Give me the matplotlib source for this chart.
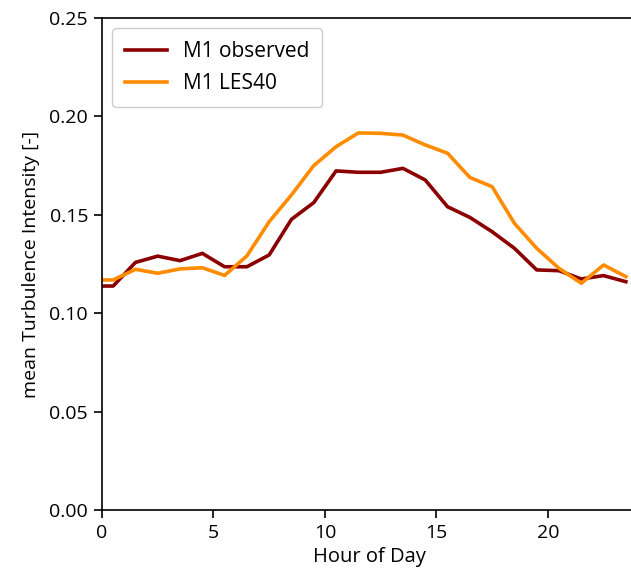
import numpy as np
import matplotlib
matplotlib.use("Agg")
import matplotlib.pyplot as plt

plt.rcParams["font.family"] = ["Open Sans", "DejaVu Sans"]

# hourly means (first point repeats the 00:30 value at hour 0)
hours = [0, 0.5, 1.5, 2.5, 3.5, 4.5, 5.5, 6.5, 7.5, 8.5, 9.5, 10.5, 11.5,
         12.5, 13.5, 14.5, 15.5, 16.5, 17.5, 18.5, 19.5, 20.5, 21.5, 22.5, 23.5]
ti_observed = [0.1138, 0.1138, 0.1258, 0.1290, 0.1267, 0.1304, 0.1236, 0.1236,
               0.1296, 0.1477, 0.1562, 0.1723, 0.1716, 0.1716, 0.1736, 0.1677,
               0.1541, 0.1487, 0.1414, 0.1330, 0.1220, 0.1216, 0.1174, 0.1191,
               0.1160]
ti_les40 = [0.1169, 0.1169, 0.1223, 0.1203, 0.1225, 0.1231, 0.1192, 0.1291,
            0.1465, 0.1601, 0.1750, 0.1846, 0.1916, 0.1914, 0.1905, 0.1855,
            0.1813, 0.1690, 0.1643, 0.1457, 0.1330, 0.1228, 0.1152, 0.1245,
            0.1186]

fig = plt.figure(figsize=(6.31, 5.74), dpi=100)
ax = fig.add_axes([102 / 631, 64 / 574, 535 / 631, 492 / 574])

ax.plot(hours, ti_observed, color="darkred", lw=2.6, label="M1 observed")
ax.plot(hours, ti_les40, color="darkorange", lw=2.6, label="M1 LES40")

ax.set_xlim(0, 24)
ax.set_ylim(0, 0.25)
ax.set_xticks([0, 5, 10, 15, 20])
ax.set_yticks([0.0, 0.05, 0.10, 0.15, 0.20, 0.25])
ax.yaxis.set_major_formatter(matplotlib.ticker.FormatStrFormatter("%.2f"))
ax.tick_params(labelsize=14, length=6, width=1.2, pad=4)
for s in ax.spines.values():
    s.set_linewidth(1.2)
ax.spines["right"].set_visible(False)

ax.set_xlabel("Hour of Day", fontsize=14.5, labelpad=4)
ax.set_ylabel("mean Turbulence Intensity [-]", fontsize=14, labelpad=7)
ax.legend(loc="upper left", fontsize=15, handlelength=2.0, labelspacing=0.55,
          borderpad=0.6, framealpha=1)

fig.savefig("out.png", dpi=100)
